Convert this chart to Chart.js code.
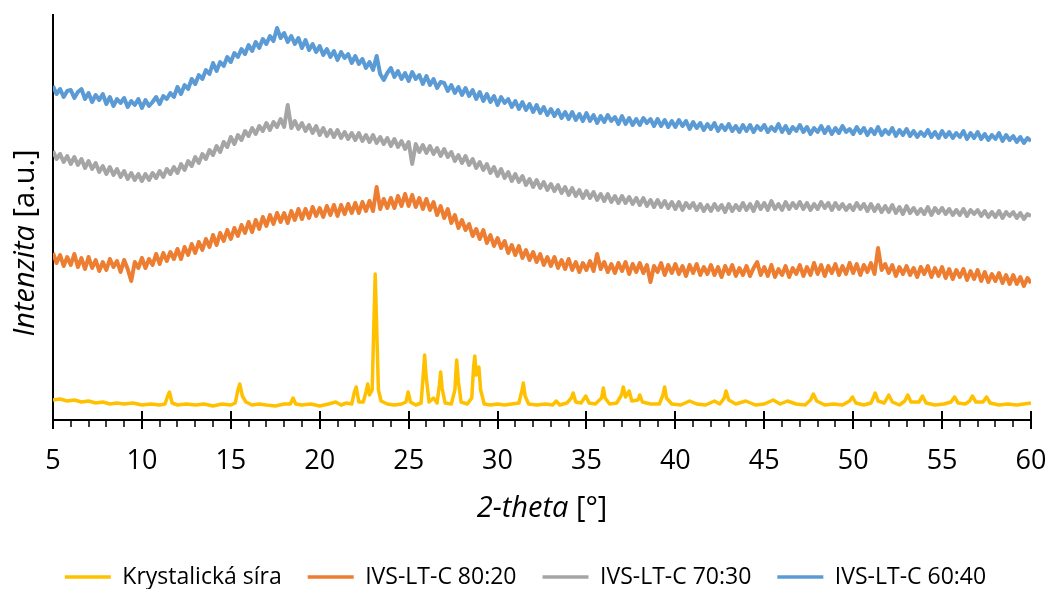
<!DOCTYPE html>
<html>
<head>
<meta charset="utf-8">
<script src="https://cdn.jsdelivr.net/npm/chart.js@4.4.1/dist/chart.umd.min.js"></script>
<style>
  html, body { margin: 0; padding: 0; background: #fff; }
</style>
</head>
<body>
<canvas id="xrdChart" width="1050" height="589"></canvas>
<script>
'use strict';

// 2-theta grid of the amorphous samples
var twoTheta = [
  5,5.2,5.4,5.6,5.8, 6,6.2,6.4,6.6,6.8, 7,7.2,7.4,7.6,7.8, 8,8.2,8.4,8.6,8.8, 9,9.2,9.4,9.6,9.8,
  10,10.2,10.4,10.6,10.8, 11,11.2,11.4,11.6,11.8, 12,12.2,12.4,12.6,12.8, 13,13.2,13.4,13.6,13.8, 14,14.2,14.4,14.6,14.8,
  15,15.2,15.4,15.6,15.8, 16,16.2,16.4,16.6,16.8, 17,17.2,17.4,17.6,17.8, 18,18.2,18.4,18.6,18.8, 19,19.2,19.4,19.6,19.8,
  20,20.2,20.4,20.6,20.8, 21,21.2,21.4,21.6,21.8, 22,22.2,22.4,22.6,22.8, 23,23.2,23.4,23.6,23.8, 24,24.2,24.4,24.6,24.8,
  25,25.2,25.4,25.6,25.8, 26,26.2,26.4,26.6,26.8, 27,27.2,27.4,27.6,27.8, 28,28.2,28.4,28.6,28.8, 29,29.2,29.4,29.6,29.8,
  30,30.2,30.4,30.6,30.8, 31,31.2,31.4,31.6,31.8, 32,32.2,32.4,32.6,32.8, 33,33.2,33.4,33.6,33.8, 34,34.2,34.4,34.6,34.8,
  35,35.2,35.4,35.6,35.8, 36,36.2,36.4,36.6,36.8, 37,37.2,37.4,37.6,37.8, 38,38.2,38.4,38.6,38.8, 39,39.2,39.4,39.6,39.8,
  40,40.2,40.4,40.6,40.8, 41,41.2,41.4,41.6,41.8, 42,42.2,42.4,42.6,42.8, 43,43.2,43.4,43.6,43.8, 44,44.2,44.4,44.6,44.8,
  45,45.2,45.4,45.6,45.8, 46,46.2,46.4,46.6,46.8, 47,47.2,47.4,47.6,47.8, 48,48.2,48.4,48.6,48.8, 49,49.2,49.4,49.6,49.8,
  50,50.2,50.4,50.6,50.8, 51,51.2,51.4,51.6,51.8, 52,52.2,52.4,52.6,52.8, 53,53.2,53.4,53.6,53.8, 54,54.2,54.4,54.6,54.8,
  55,55.2,55.4,55.6,55.8, 56,56.2,56.4,56.6,56.8, 57,57.2,57.4,57.6,57.8, 58,58.2,58.4,58.6,58.8, 59,59.2,59.4,59.6,59.8,
  60
];

// IVS-LT-C 80:20
var ivs8020 = [
  167,157,165,154,163, 155,166,153,162,151, 163,152,160,149,158, 150,161,153,159,148, 160,151,139,158,152,
  162,152,161,155,166, 156,167,159,168,161, 171,161,173,165,176, 167,178,170,181,173, 185,175,187,179,190,
  181,192,184,195,187, 198,188,200,191,203, 194,205,196,207,198, 207,197,209,200,211, 201,211,202,213,204,
  212,203,214,205,215, 204,215,206,216,207, 217,207,218,209,219, 209,233,211,221,212, 222,212,224,214,226,
  214,225,213,222,211, 221,210,218,205,214, 202,211,197,205,192, 200,190,196,184,191, 181,190,177,185,174,
  182,172,179,167,175, 165,174,162,170,160, 168,158,166,155,163, 154,163,152,160,151, 161,150,158,148,157,
  150,159,149,166,151, 158,148,156,147,157, 149,158,146,156,148, 157,147,155,138,154, 148,157,145,155,147,
  156,146,154,144,155, 147,156,145,153,146, 155,145,153,143,154, 146,155,144,152,145, 154,144,152,158,145,
  153,144,155,143,151, 145,154,143,152,146, 155,144,153,145,157, 146,155,144,154,147, 156,145,154,146,157,
  147,156,145,155,148, 157,146,172,150,156, 147,155,144,153,146, 154,145,152,143,153, 146,154,143,152,144,
  153,142,151,141,150, 143,151,140,149,141, 150,139,148,138,146, 139,147,137,145,136, 145,136,143,134,142,
  137
];

// IVS-LT-C 70:30
var ivs7030 = [
  269,261,266,258,264, 256,263,255,261,252, 259,251,257,248,254, 246,253,245,251,243, 249,241,247,240,246,
  239,246,240,247,242, 249,243,251,246,253, 247,256,250,259,254, 263,257,266,261,270, 265,274,268,278,273,
  283,276,285,280,289, 284,292,286,294,289, 297,290,298,293,301, 293,315,292,299,291, 297,289,295,287,294,
  285,292,284,290,283, 290,282,288,281,287, 280,287,279,285,278, 285,277,283,276,282, 274,281,273,279,271,
  278,256,276,268,275, 267,274,266,272,264, 271,263,268,259,265, 257,264,255,261,252, 258,250,256,247,253,
  244,251,242,248,239, 246,238,244,235,241, 233,240,232,238,230, 236,229,235,227,233, 225,232,224,230,222,
  229,222,228,220,226, 219,226,218,224,217, 224,217,223,216,222, 215,222,214,220,213, 220,213,219,212,218,
  211,218,210,217,212, 217,210,216,209,215, 209,216,210,215,208, 216,209,215,210,217, 210,216,209,218,211,
  217,210,219,211,216, 210,218,211,217,212, 218,211,217,210,216, 211,218,212,217,210, 217,211,216,210,215,
  210,217,211,216,209, 216,209,215,208,214, 208,215,207,213,206, 214,207,212,206,211, 206,213,205,212,207,
  212,206,211,205,210, 205,211,204,210,206, 210,204,209,203,208, 203,209,202,208,204, 208,202,207,201,206,
  204
];

// IVS-LT-C 60:40
var ivs6040 = [
  334,326,331,323,329, 330,322,328,331,321, 327,318,325,320,326, 316,323,314,321,317, 322,313,319,315,321,
  312,320,314,318,323, 316,324,321,327,323, 333,326,335,331,341, 336,345,341,350,346, 357,349,358,354,363,
  358,367,363,371,366, 375,369,378,372,381, 376,384,379,392,382, 387,378,384,376,382, 372,380,370,376,368,
  374,365,371,363,369, 360,368,362,366,357, 364,356,361,352,358, 350,364,346,340,347, 352,343,349,341,347,
  339,348,341,345,336, 344,335,341,332,338, 337,329,335,327,333, 325,332,324,330,321, 328,319,326,318,324,
  315,323,317,321,313, 319,311,318,310,316, 308,315,307,313,305, 311,304,310,302,308, 301,308,300,306,299,
  307,299,305,297,304, 298,305,299,303,296, 304,296,302,295,301, 295,302,297,301,294, 301,294,300,293,299,
  293,300,294,299,291, 298,292,297,290,296, 291,297,289,295,290, 296,289,294,288,295, 289,295,288,294,290,
  295,288,293,289,296, 288,294,287,293,289, 295,288,293,286,292, 288,294,287,293,286, 292,287,294,288,291,
  286,293,287,292,285, 291,286,293,285,290, 286,292,284,290,285, 291,284,289,283,288, 284,290,283,288,282,
  289,283,288,282,287, 283,289,281,287,282, 288,281,286,280,285, 281,287,279,285,280, 284,278,283,277,282,
  279
];

// Krystalická síra (crystalline sulfur)
var sulfurTheta = [
  5,5.4,5.8,6.2,6.6,7,7.4,7.8,8.2,8.6,9,9.5,10,10.5,11,11.3,11.45,11.55,11.7,12,12.5,13,13.5,14,14.5,
  15,15.25,15.4,15.5,15.65,15.85,16.2,16.6,17,17.5,18,18.35,18.5,18.65,19,19.5,20,20.5,20.9,21.2,21.5,21.8,
  21.95,22.05,22.2,22.45,22.6,22.7,22.8,22.95,23.05,23.12,23.2,23.3,23.45,23.8,24.2,24.6,24.85,24.97,25.1,25.4,
  25.7,25.82,25.9,25.98,26.15,26.4,26.6,26.73,26.8,26.88,27.05,27.4,27.6,27.7,27.8,27.95,28.3,28.55,28.65,28.72,
  28.8,28.88,28.95,29.05,29.25,29.6,30,30.4,30.8,31.2,31.38,31.45,31.55,31.75,32.2,32.7,33.1,33.3,33.5,33.9,
  34.15,34.25,34.4,34.7,34.96,35.15,35.5,35.85,35.95,36.05,36.3,36.7,36.97,37.07,37.2,37.4,37.55,37.9,38,38.15,
  38.6,39.1,39.3,39.4,39.5,39.8,40.3,40.8,41.2,41.7,42.2,42.5,42.75,42.85,43,43.4,43.96,44.5,45,45.5,45.9,
  46.3,46.8,47.3,47.6,47.76,47.95,48.4,48.9,49.4,49.8,49.96,50.15,50.6,51,51.15,51.24,51.4,51.75,52,52.2,
  52.6,52.9,53.07,53.25,53.7,53.9,54.1,54.6,55.1,55.5,55.7,55.9,56.3,56.55,56.7,56.9,57.3,57.5,57.7,58.2,
  58.7,59.2,59.6,60
];
var sulfurIntensity = [
  20,21,19,20,18,19,17,18,16,17,16,17,15,16,15,16,24,28,17,15,16,15,16,14,16,
  15,17,30,36,24,18,15,16,15,14,16,16,22,16,15,16,14,16,18,15,17,16,
  28,33,18,18,28,36,25,30,100,146,95,30,19,16,15,16,18,28,18,15,
  17,45,65,44,18,22,17,35,48,32,17,16,30,60,38,18,16,22,52,64,
  45,50,53,30,16,15,16,15,16,17,30,37,24,16,15,16,15,19,15,17,
  22,27,18,17,24,17,16,22,32,22,16,17,25,33,23,29,19,20,25,18,
  16,16,25,33,22,16,15,19,16,15,19,16,22,29,20,16,19,15,16,20,16,
  19,16,15,20,26,19,15,16,15,19,23,17,15,17,23,27,19,17,25,18,
  15,19,25,18,18,24,17,15,16,18,23,17,16,19,24,18,18,23,17,15,
  16,15,16,17
];

var seriesNames = ['Krystalická síra', 'IVS-LT-C 80:20', 'IVS-LT-C 70:30', 'IVS-LT-C 60:40'];
var seriesColors = ['#FFC000', '#ED7D31', '#A5A5A5', '#5B9BD5'];
var majorTicks = [5, 10, 15, 20, 25, 30, 35, 40, 45, 50, 55, 60];

var FONT = "'Open Sans', 'Noto Sans', sans-serif";

function toPoints(xs, ys) {
  return xs.map(function (x, i) { return { x: x, y: ys[i] }; });
}

// tick marks (minor outside, major crossing) and the two axis titles
var axisDecor = {
  id: 'axisDecor',
  afterDraw: function (chart) {
    var ctx = chart.ctx;
    var area = chart.chartArea;
    var xs = chart.scales.x;
    ctx.save();
    ctx.strokeStyle = '#000';
    xs.ticks.forEach(function (t) {
      var px = Math.round(xs.getPixelForValue(t.value));
      var major = majorTicks.indexOf(t.value) >= 0;
      ctx.lineWidth = major ? 2 : 1.5;
      ctx.beginPath();
      ctx.moveTo(px, major ? area.bottom - 9 : area.bottom);
      ctx.lineTo(px, major ? area.bottom + 9 : area.bottom + 7);
      ctx.stroke();
    });

    ctx.fillStyle = '#000';
    ctx.textBaseline = 'alphabetic';
    ctx.textAlign = 'left';
    function mixed(a, b, cx, cy, rot) {
      ctx.save();
      ctx.translate(cx, cy);
      ctx.rotate(rot);
      ctx.font = 'italic 29px ' + FONT;
      var wa = ctx.measureText(a).width;
      ctx.font = '29px ' + FONT;
      var wb = ctx.measureText(b).width;
      var x0 = -(wa + wb) / 2;
      ctx.font = 'italic 29px ' + FONT;
      ctx.fillText(a, x0, 0);
      ctx.font = '29px ' + FONT;
      ctx.fillText(b, x0 + wa, 0);
      ctx.restore();
    }
    mixed('2-theta', ' [°]', (area.left + area.right) / 2, 517, 0);
    mixed('Intenzita', ' [a.u.]', 34, 243, -Math.PI / 2);
    ctx.restore();
  }
};

// put the legend row where it sits in the original
var legendPlace = {
  id: 'legendPlace',
  afterLayout: function (chart) {
    var lg = chart.legend;
    var pad = lg.options.labels.padding;
    var dy = 577 - (lg.top + pad + 23 / 2);
    lg.top += dy;
    lg.bottom += dy;
    lg.left += 10;
    lg.right += 10;
  }
};

var ctx = document.getElementById('xrdChart');
var myChart = new Chart(ctx, {
  type: 'line',
  data: {
    datasets: [
      { label: seriesNames[0], data: toPoints(sulfurTheta, sulfurIntensity), borderColor: seriesColors[0], backgroundColor: seriesColors[0], borderWidth: 3.5 },
      { label: seriesNames[1], data: toPoints(twoTheta, ivs8020), borderColor: seriesColors[1], backgroundColor: seriesColors[1], borderWidth: 4 },
      { label: seriesNames[2], data: toPoints(twoTheta, ivs7030), borderColor: seriesColors[2], backgroundColor: seriesColors[2], borderWidth: 4 },
      { label: seriesNames[3], data: toPoints(twoTheta, ivs6040), borderColor: seriesColors[3], backgroundColor: seriesColors[3], borderWidth: 4 }
    ]
  },
  plugins: [axisDecor, legendPlace],
  options: {
    responsive: false,
    animation: false,
    elements: {
      point: { radius: 0 },
      line: { tension: 0, fill: false, borderJoinStyle: 'round' }
    },
    layout: { padding: { left: 0, right: 19, top: 15, bottom: 0 } },
    plugins: {
      tooltip: { enabled: false },
      legend: {
        position: 'bottom',
        labels: {
          usePointStyle: true,
          pointStyle: 'line',
          pointStyleWidth: 46,
          padding: 26,
          color: '#000',
          font: { family: FONT, size: 23 },
          generateLabels: function (chart) {
            var items = Chart.defaults.plugins.legend.labels.generateLabels(chart);
            items.forEach(function (it) { it.lineWidth = 3.5; });
            return items;
          }
        }
      }
    },
    scales: {
      x: {
        type: 'linear',
        min: 5,
        max: 60,
        afterFit: function (scale) {
          scale.height = scale.chart.height - scale.chart.legend.height - 420;
        },
        border: { display: true, color: '#000', width: 2 },
        grid: { display: true, drawOnChartArea: false, drawTicks: true, tickLength: 25, tickColor: 'rgba(0,0,0,0)' },
        ticks: {
          stepSize: 1,
          autoSkip: false,
          maxRotation: 0,
          minRotation: 0,
          padding: 0,
          color: '#000',
          font: { family: FONT, size: 27 },
          callback: function (v) { return majorTicks.indexOf(v) >= 0 ? String(v) : ''; }
        }
      },
      y: {
        min: 0,
        max: 405,
        afterFit: function (scale) { scale.width = 53; },
        border: { display: true, color: '#000', width: 2 },
        grid: { display: false },
        ticks: { display: false }
      }
    }
  }
});
</script>
</body>
</html>
